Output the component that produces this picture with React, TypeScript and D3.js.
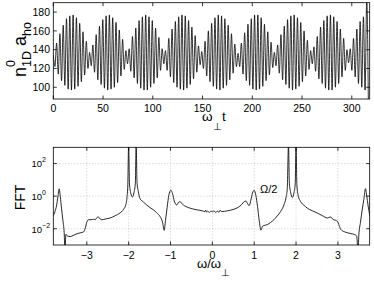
import React, { useEffect, useRef } from "react";
import * as d3 from "d3";

// top panel: extremes of each fast oscillation cycle (n0_1D a_ho)
const crestValues = [
  135, 147, 157, 166, 173, 176, 177, 174, 168, 159, 149, 137,
  145, 156, 165, 172, 176, 177, 174, 169, 161, 151, 139,
  141, 154, 163, 171, 175, 177, 175, 171, 163, 153, 141,
  139, 152, 162, 170, 175, 177, 176, 171, 164, 155, 144,
  138, 149, 160, 168, 174, 177, 176, 173, 166, 157, 146,
  136, 147, 158, 167, 173, 177, 177, 174, 167, 159, 148,
  137, 145, 156, 165, 172, 176, 177, 174, 169, 160, 150,
  139, 143, 154, 164, 171, 176, 177, 175, 170, 162, 152,
  140, 141, 152, 162, 170, 175, 195,
];
const troughValues = [
  122, 114, 107, 102, 98, 97, 98, 101, 106, 113, 120, 123,
  116, 108, 103, 99, 97, 98, 100, 105, 112, 119, 125,
  117, 110, 104, 99, 97, 97, 100, 104, 110, 118, 125,
  118, 111, 105, 100, 98, 97, 99, 103, 109, 116, 124,
  120, 112, 106, 101, 98, 97, 99, 102, 108, 115, 122,
  122, 114, 107, 102, 98, 97, 98, 101, 107, 113, 121,
  123, 115, 108, 103, 99, 97, 98, 101, 106, 112, 119,
  125, 117, 109, 104, 99, 97, 97, 100, 104, 111, 118,
  126, 118, 111, 104, 100, 97, 80,
];
const cyclePeriod = 3.316; // in units of ω⊥ t

const timeTicks = [0, 50, 100, 150, 200, 250, 300];
const densityTicks = [100, 120, 140, 160, 180];

// bottom panel: FFT spectrum, log10 of amplitude
const fftOmega = [
  -3.8, -3.76, -3.72, -3.69, -3.66, -3.64, -3.61, -3.57, -3.54, -3.52, -3.5,
  -3.46, -3.4, -3.33, -3.25, -3.15, -3.08, -3.04, -3.0, -2.96, -2.9, -2.84,
  -2.8, -2.76, -2.72, -2.68, -2.64, -2.55, -2.44, -2.32, -2.21, -2.12, -2.07,
  -2.04, -2.02, -2.0, -1.98, -1.95, -1.91, -1.87, -1.84, -1.82, -1.8, -1.77,
  -1.73, -1.65, -1.57, -1.49, -1.41, -1.33, -1.25, -1.19, -1.15, -1.12, -1.08,
  -1.04, -0.99, -0.95, -0.91, -0.85, -0.81, -0.77, -0.72, -0.66, -0.53, -0.37,
  -0.24, -0.18, -0.16, -0.14, -0.11, -0.07, -0.04, 0.0, 0.04, 0.08, 0.12, 0.16,
  0.19, 0.22, 0.36, 0.52, 0.62, 0.7, 0.76, 0.8, 0.84, 0.88, 0.92, 0.96, 1.0,
  1.04, 1.08, 1.12, 1.16, 1.2, 1.24, 1.31, 1.39, 1.47, 1.55, 1.63, 1.71, 1.76,
  1.79, 1.82, 1.84, 1.87, 1.91, 1.95, 1.98, 2.0, 2.02, 2.05, 2.11, 2.19, 2.27,
  2.39, 2.51, 2.63, 2.75, 2.79, 2.83, 2.87, 2.91, 2.99, 3.03, 3.07, 3.15, 3.23,
  3.31, 3.39, 3.45, 3.48, 3.5, 3.54, 3.58, 3.62, 3.66, 3.69, 3.72, 3.76,
];
const fftExponent = [
  -1.2, -0.95, -0.55, -0.05, 0.45, 0.15, -0.6, -1.5, -2.25, -3.4, -2.35,
  -2.45, -2.48, -2.42, -2.32, -2.25, -2.2, -2.0, -1.6, -1.45, -1.45, -1.42,
  -1.45, -1.32, -1.28, -1.4, -1.45, -1.4, -1.34, -1.2, -1.04, -0.8, -0.55,
  -0.1, 0.7, 3.2, 0.75, 0.2, -0.05, 0.25, 0.8, 3.2, 0.85, 0.3,
  -0.14, -0.35, -0.54, -0.7, -0.84, -1.02, -1.25, -1.6, -2.1, -1.5, -0.7,
  0.05, 0.36, 0.15, -0.3, -0.54, -0.38, -0.34, -0.48, -0.6, -0.74, -0.84,
  -0.9, -0.95, -0.86, -0.98, -0.92, -1.0, -0.92, -0.96, -0.9, -1.0, -0.92, -0.99,
  -0.86, -0.95, -0.9, -0.8, -0.68, -0.52, -0.34, -0.3, -0.45, -0.58, -0.25, 0.2, 0.36,
  0.05, -0.64, -1.5, -2.09, -1.85, -1.8, -1.75, -1.62, -1.45, -1.22, -0.95, -0.54, -0.1,
  0.45, 3.2, 0.8, 0.25, -0.08, 0.2, 0.75, 3.2, 0.7, 0.05, -0.34, -0.56, -0.74,
  -0.9, -1.04, -1.2, -1.34, -1.3, -1.28, -1.4, -1.45, -1.55, -1.8, -2.05, -2.18, -2.25,
  -2.3, -2.35, -2.45, -3.4, -2.4, -1.6, -0.85, -0.2, 0.46, 0.0, -0.55, -1.2,
];
const omegaTicks = [-3, -2, -1, 0, 1, 2, 3];
const fftTickExponents = [-2, 0, 2];

const W = 374;
const H = 281;
const FONT = "'Liberation Sans', Arial, Helvetica, sans-serif";
const topBox = { left: 53.3, right: 369.7, top: 2.7, bottom: 99 };
const botBox = { left: 53.3, right: 369.7, top: 147.3, bottom: 245 };
const TICK = 3.5;

const App = () => {
  const svgRef = useRef<SVGSVGElement | null>(null);

  const drawChart = () => {
    const svg = d3.select(svgRef.current);
    svg.selectAll("*").remove();

    const defs = svg.append("defs");
    [["clip-top", topBox], ["clip-bot", botBox]].forEach(([id, b]: any) => {
      defs
        .append("clipPath")
        .attr("id", id)
        .append("rect")
        .attr("x", b.left)
        .attr("y", b.top)
        .attr("width", b.right - b.left)
        .attr("height", b.bottom - b.top);
    });

    const drawFrame = (b: typeof topBox, xs: number[], xf: (v: number) => number, ys: number[], yf: (v: number) => number) => {
      const g = svg.append("g").attr("stroke", "#000").attr("stroke-width", 0.8);
      g.append("rect")
        .attr("x", b.left)
        .attr("y", b.top)
        .attr("width", b.right - b.left)
        .attr("height", b.bottom - b.top)
        .attr("fill", "none");
      xs.forEach((v) => {
        const x = xf(v);
        g.append("line").attr("x1", x).attr("x2", x).attr("y1", b.bottom).attr("y2", b.bottom - TICK);
        g.append("line").attr("x1", x).attr("x2", x).attr("y1", b.top).attr("y2", b.top + TICK);
      });
      ys.forEach((v) => {
        const y = yf(v);
        g.append("line").attr("x1", b.left).attr("x2", b.left + TICK).attr("y1", y).attr("y2", y);
        g.append("line").attr("x1", b.right).attr("x2", b.right - TICK).attr("y1", y).attr("y2", y);
      });
    };

    // ---- top panel
    const x1 = d3.scaleLinear().domain([0, 318]).range([topBox.left, topBox.right]);
    const y1 = d3.scaleLinear().domain([87.5, 190]).range([topBox.bottom, topBox.top]);

    const series: [number, number][] = crestValues.flatMap((c, k) => [
      [k * cyclePeriod, c] as [number, number],
      [k * cyclePeriod + cyclePeriod / 2, troughValues[k]] as [number, number],
    ]);
    const line1 = d3
      .line<[number, number]>()
      .x((d) => x1(d[0]))
      .y((d) => y1(d[1]))
      .curve(d3.curveMonotoneX);

    svg
      .append("path")
      .attr("clip-path", "url(#clip-top)")
      .attr("d", line1(series) || "")
      .attr("fill", "none")
      .attr("stroke", "#000")
      .attr("stroke-width", 0.8);

    drawFrame(topBox, timeTicks, x1, densityTicks, y1);

    svg
      .append("g")
      .selectAll("text")
      .data(timeTicks)
      .enter()
      .append("text")
      .attr("x", (d) => x1(d))
      .attr("y", 112)
      .attr("text-anchor", "middle")
      .attr("font-size", 10.5)
      .text((d) => d);

    svg
      .append("g")
      .selectAll("text")
      .data(densityTicks)
      .enter()
      .append("text")
      .attr("x", 50)
      .attr("y", (d) => y1(d) + 3.7)
      .attr("text-anchor", "end")
      .attr("font-size", 10.5)
      .text((d) => d);

    // x label: ω⊥ t
    const xl1 = svg.append("text").attr("x", 202).attr("y", 121).attr("font-size", 13.5);
    xl1.append("tspan").text("ω");
    xl1.append("tspan").attr("font-size", 9.5).attr("dy", 8.5).text("⊥");
    xl1.append("tspan").attr("dy", -8.5).attr("dx", 0.5).text("t");

    // y label: n^0_1D a_ho
    const yl1 = svg
      .append("text")
      .attr("transform", "translate(25.5,77) rotate(-90)")
      .attr("font-size", 18);
    yl1.append("tspan").text("n");
    yl1.append("tspan").attr("font-size", 12.5).attr("dy", -11).text("0");
    yl1.append("tspan").attr("font-size", 12.5).attr("dx", -7).attr("dy", 16).text("1D");
    yl1.append("tspan").attr("dy", -5).text("\u00a0a");
    yl1.append("tspan").attr("font-size", 12.5).attr("dy", 5).text("ho");

    // ---- bottom panel
    const x2 = d3.scaleLinear().domain([-3.8, 3.76]).range([botBox.left, botBox.right]);
    const y2 = d3.scaleLog().domain([1e-3, 1e3]).range([botBox.bottom, botBox.top]);
    const tickValues = fftTickExponents.map((e) => Math.pow(10, e));

    const grid = svg
      .append("g")
      .attr("stroke", "#b4b4b4")
      .attr("stroke-width", 0.7)
      .attr("stroke-dasharray", "1,2");
    omegaTicks.forEach((v) => {
      grid.append("line").attr("x1", x2(v)).attr("x2", x2(v)).attr("y1", botBox.top).attr("y2", botBox.bottom);
    });
    tickValues.forEach((v) => {
      grid.append("line").attr("x1", botBox.left).attr("x2", botBox.right).attr("y1", y2(v)).attr("y2", y2(v));
    });

    const spectrum: [number, number][] = fftOmega.map((w, i) => [w, Math.pow(10, fftExponent[i])]);
    const line2 = d3
      .line<[number, number]>()
      .x((d) => x2(d[0]))
      .y((d) => y2(d[1]))
      .curve(d3.curveMonotoneX);

    svg
      .append("path")
      .attr("clip-path", "url(#clip-bot)")
      .attr("d", line2(spectrum) || "")
      .attr("fill", "none")
      .attr("stroke", "#111")
      .attr("stroke-width", 0.9);

    drawFrame(botBox, omegaTicks, x2, tickValues, y2);

    svg
      .append("g")
      .selectAll("text")
      .data(omegaTicks)
      .enter()
      .append("text")
      .attr("x", (d) => x2(d))
      .attr("y", 258.5)
      .attr("text-anchor", "middle")
      .attr("font-size", 10.5)
      .text((d) => (d < 0 ? "\u2212" + Math.abs(d) : String(d)));

    fftTickExponents.forEach((e) => {
      const y = y2(Math.pow(10, e));
      const t = svg.append("text").attr("x", 31.5).attr("y", y + 3.8).attr("font-size", 9.5);
      t.append("tspan").text("10");
      t.append("tspan")
        .attr("font-size", 7)
        .attr("dy", -5)
        .text(e < 0 ? "\u2212" + Math.abs(e) : String(e));
    });

    // annotation
    svg.append("text").attr("x", 260).attr("y", 193).attr("font-size", 11).text("Ω/2");

    // x label: ω/ω⊥
    const xl2 = svg.append("text").attr("x", 197).attr("y", 267.5).attr("font-size", 13);
    xl2.append("tspan").text("ω/ω");
    xl2.append("tspan").attr("font-size", 9.5).attr("dy", 8.5).text("⊥");

    // y label: FFT
    svg
      .append("text")
      .attr("transform", "translate(25,197.5) rotate(-90)")
      .attr("text-anchor", "middle")
      .attr("font-size", 14)
      .text("FFT");
  };

  useEffect(() => {
    drawChart();
  }, []);

  return (
    <svg
      ref={svgRef}
      width={W}
      height={H}
      style={{ position: "absolute", left: 0, top: 0, background: "#fff", fontFamily: FONT }}
    />
  );
};

export default App;
